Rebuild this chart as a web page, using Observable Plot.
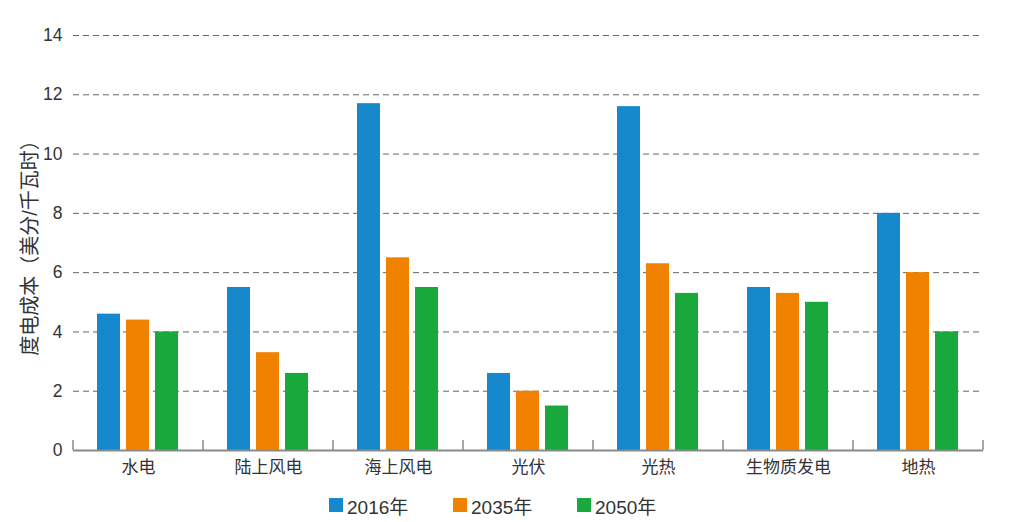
<!DOCTYPE html>
<html>
<head>
<meta charset="utf-8">
<script src="https://cdn.jsdelivr.net/npm/d3@7"></script>
<script src="https://cdn.jsdelivr.net/npm/@observablehq/plot@0.6"></script>
<style>
  html, body { margin: 0; padding: 0; background: #fff; }
  #chart { width: 1020px; }
  g[aria-label="y-axis label"] text { font-size: 20px; }
  .legend { display: flex; height: 30px; align-items: center; padding-left: 329px;
    font-family: "Liberation Sans", "Noto Sans CJK SC", sans-serif; font-size: 19px; color: #333; }
  .legend .item { display: flex; align-items: center; width: 124px; }
  .legend .sw { width: 14px; height: 14px; margin-right: 4px; }
</style>
</head>
<body>
<div id="chart"></div>
<script>
const categories = ["水电", "陆上风电", "海上风电", "光伏", "光热", "生物质发电", "地热"];
const years = ["2016年", "2035年", "2050年"];
const v2016 = [4.6, 5.5, 11.7, 2.6, 11.6, 5.5, 8.0];
const v2035 = [4.4, 3.3, 6.5, 2.0, 6.3, 5.3, 6.0];
const v2050 = [4.0, 2.6, 5.5, 1.5, 5.3, 5.0, 4.0];
const colors = ["#1689cc", "#f08200", "#18a83c"];
const yTicks = [0, 2, 4, 6, 8, 10, 12, 14];
const yLabel = "度电成本（美分/千瓦时）";

const series = [v2016, v2035, v2050];
const data = [];
categories.forEach((c, i) => {
  years.forEach((y, j) => data.push({category: c, year: y, value: series[j][i]}));
});

const font = '"Liberation Sans", "Noto Sans CJK SC", sans-serif';

const plot = Plot.plot({
  width: 1020,
  height: 490,
  marginTop: 35,
  marginBottom: 40,
  marginLeft: 73,
  marginRight: 37,
  style: {fontFamily: font, fontSize: "17px", color: "#333", background: "#fff"},
  fx: {domain: categories, padding: 0, label: null, axis: null},
  x: {domain: years, paddingInner: 0.2, paddingOuter: 0.84, axis: null},
  y: {domain: [0, 14], ticks: yTicks, label: null, axis: null},
  color: {domain: years, range: colors},
  marks: [
    Plot.gridY(yTicks.filter(d => d > 0), {stroke: "#4a4a4a", strokeOpacity: 0.85, strokeDasharray: "6,4", strokeWidth: 1}),
    Plot.axisY({ticks: yTicks, tickSize: 0, tickPadding: 11, fontSize: 17.5, label: yLabel, labelAnchor: "center", labelArrow: "none", labelOffset: 51}),
    Plot.axisFx({anchor: "bottom", tickSize: 0, tickPadding: 10, fontSize: 17, label: null}),
    Plot.barY(data, {fx: "category", x: "year", y: "value", fill: "year"}),
    Plot.ruleY([0], {stroke: "#8a8a8a", strokeWidth: 2})
  ]
});

// boundary tick marks between categories, positioned via Plot's own scales
const fx = plot.scale("fx");
const y = plot.scale("y");
const y0 = y.apply(0);
const edges = categories.map(c => fx.apply(c));
edges.push(fx.apply(categories[categories.length - 1]) + fx.bandwidth);
const svg = d3.select(plot.tagName === "svg" ? plot : plot.querySelector("svg"));
svg.append("g")
  .selectAll("line")
  .data(edges)
  .join("line")
  .attr("x1", d => d).attr("x2", d => d)
  .attr("y1", y0).attr("y2", y0 - 10)
  .attr("stroke", "#8a8a8a").attr("stroke-width", 1.5);

document.getElementById("chart").appendChild(plot);

const legend = document.createElement("div");
legend.className = "legend";
years.forEach((yr, i) => {
  const item = document.createElement("div");
  item.className = "item";
  const sw = document.createElement("span");
  sw.className = "sw";
  sw.style.background = colors[i];
  const t = document.createElement("span");
  t.textContent = yr;
  item.appendChild(sw);
  item.appendChild(t);
  legend.appendChild(item);
});
document.getElementById("chart").appendChild(legend);
</script>
</body>
</html>
